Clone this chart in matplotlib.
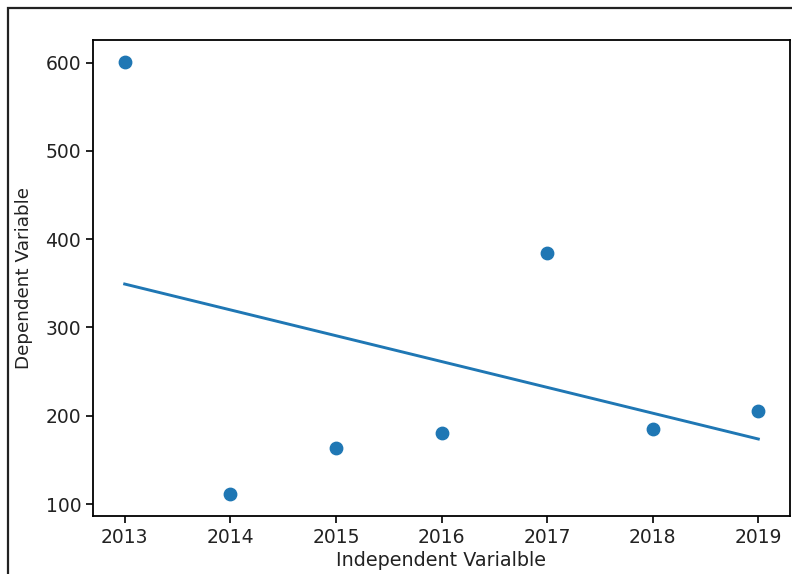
import matplotlib
matplotlib.use("Agg")
import matplotlib.pyplot as plt
from matplotlib.patches import Rectangle
import numpy as np

years = [2013, 2014, 2015, 2016, 2017, 2018, 2019]
values = [601, 111, 163, 181, 384, 185, 205]

fig = plt.figure(figsize=(7.92, 5.74), dpi=100)
ax = fig.add_axes([93 / 792, 58 / 574, 697 / 792, 476 / 574])

x = np.array(years)
y = np.array(values)
slope, intercept = np.polyfit(x, y, 1)

ax.scatter(x, y, s=80, color="#1f77b4")
ax.plot(x, slope * x + intercept, color="#1f77b4", linewidth=2.1)

ax.set_xlabel("Independent Varialble", fontsize=13.8, labelpad=3, color="#222222")
ax.set_ylabel("Dependent Variable", fontsize=13.2, labelpad=9, color="#222222")
ax.tick_params(labelsize=13.5, length=5, width=1.2, labelcolor="#222222")
for s in ax.spines.values():
    s.set_linewidth(1.3)

# outer frame around the screenshot
fig.patches.append(Rectangle((8 / 792, -0.1), 1.2, (566 / 574) + 0.1,
                             transform=fig.transFigure, fill=False,
                             edgecolor="#222222", linewidth=1.6))

fig.savefig("out.png", dpi=100)
